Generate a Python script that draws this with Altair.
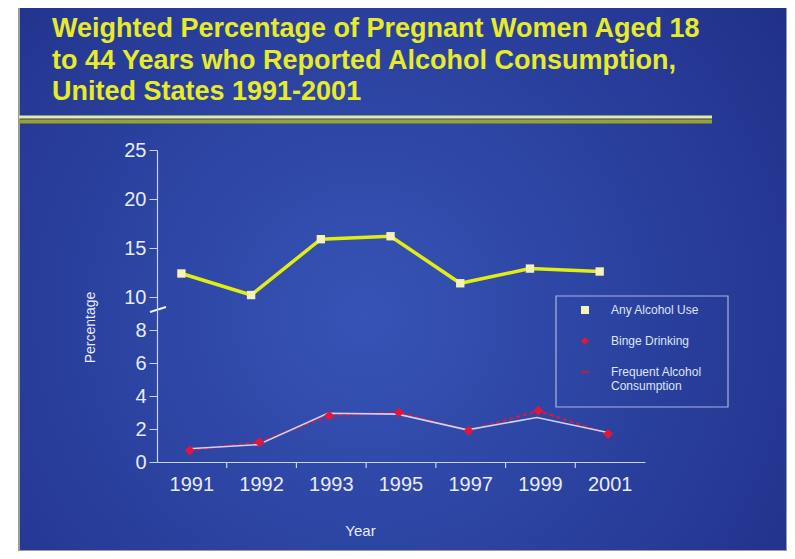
import altair as alt
import pandas as pd

# ---- data ----
YEARS = ["1991", "1992", "1993", "1995", "1997", "1999", "2001"]
ANY_USE = [12.4, 10.2, 15.9, 16.2, 11.4, 12.9, 12.6]
BINGE = [0.7, 1.2, 2.8, 3.0, 1.9, 3.1, 1.7]
FREQUENT = [0.8, 1.05, 2.95, 2.9, 1.95, 2.7, 1.8]
SERIES = ["Any Alcohol Use", "Binge Drinking", "Frequent Alcohol Consumption"]
Y_TICKS = [0, 2, 4, 6, 8, 10, 15, 20, 25]
TITLE_LINES = [
    "Weighted Percentage of Pregnant Women Aged 18",
    "to 44 Years who Reported Alcohol Consumption,",
    "United States 1991-2001",
]

df = pd.DataFrame({
    "year": YEARS * 3,
    "series": [SERIES[0]] * 7 + [SERIES[1]] * 7 + [SERIES[2]] * 7,
    "value": ANY_USE + BINGE + FREQUENT,
})
one = pd.DataFrame({"k": [0]})

FONT = "Liberation Sans"
AXIS_COLOR = "#c9d1f2"
LABEL_COLOR = "#e8ecf8"
W, H = 488, 312

x_scale = alt.Scale(type="band", domain=YEARS, paddingInner=0, paddingOuter=0)
y_scale = alt.Scale(domain=[0, 10, 25], range=[H, 147, 0], nice=False, zero=False)

x_axis = alt.Axis(
    title="Year", ticks=False, labelAngle=0, labelFont=FONT, labelFontSize=20,
    labelColor=LABEL_COLOR, labelPadding=22, domainColor=AXIS_COLOR, domainWidth=1.2,
    titleFont=FONT, titleFontSize=15, titleFontWeight="normal", titleColor=LABEL_COLOR,
    titleX=203, titleY=68, titleAlign="center", titleBaseline="middle",
    grid=False, zindex=1, bandPosition=0.5, labelAlign="center",
)
y_axis = alt.Axis(
    title="Percentage", values=Y_TICKS, tickCount=30, tickSize=8, tickColor=AXIS_COLOR,
    domainColor=AXIS_COLOR, domainWidth=1.2, labelFont=FONT, labelFontSize=20,
    labelColor=LABEL_COLOR, labelPadding=3, labelOverlap=False, labelFlush=False,
    titleFont=FONT, titleFontSize=14,
    titleFontWeight="normal", titleColor=LABEL_COLOR, titleX=-67, titleY=177,
    titleAngle=270, titleAlign="center", titleBaseline="middle",
    grid=False, zindex=1,
)

legend = alt.Legend(
    title=None, orient="none", legendX=422, legendY=154, padding=0,
    rowPadding=19, labelOffset=20, symbolSize=64, labelFont=FONT,
    labelFontSize=12, labelColor="#dfe4f6", labelLimit=220, zindex=1,
    labelExpr="datum.label == 'Frequent Alcohol Consumption' ? ['Frequent Alcohol', 'Consumption'] : datum.label",
)
color_scale = alt.Scale(domain=SERIES, range=["#f3f3b8", "#e0163a", "#8e2c5c"])
shape_scale = alt.Scale(domain=SERIES, range=["square", "diamond", "M-1,-0.35L1,-0.35L1,0.35L-1,0.35Z"])

# ---- decorations ----
background = alt.Chart(one).mark_rect(
    fill={
        "gradient": "radial",
        "x1": 0.45, "y1": 0.55, "r1": 0,
        "x2": 0.45, "y2": 0.55, "r2": 0.8,
        "stops": [
            {"offset": 0, "color": "#3654b6"},
            {"offset": 1, "color": "#1d2a82"},
        ],
    },
    stroke="#9c9c9c", strokeWidth=2,
).encode(x=alt.value(-138), x2=alt.value(W + 142), y=alt.value(-146), y2=alt.value(H + 89))

title_layers = [
    alt.Chart(one).mark_text(
        text=line, font=FONT, fontSize=27, fontWeight="bold", color="#e8ec28",
        align="left", baseline="alphabetic",
    ).encode(x=alt.value(-105), y=alt.value(yv))
    for line, yv in zip(TITLE_LINES, [-113, -81, -50])
]

rule_top = alt.Chart(one).mark_rule(color="#e4eca0", strokeWidth=3).encode(
    x=alt.value(-138), x2=alt.value(555), y=alt.value(-33))
rule_bot = alt.Chart(one).mark_rule(color="#9aa22e", strokeWidth=4).encode(
    x=alt.value(-138), x2=alt.value(555), y=alt.value(-28.5))

brk = alt.Chart(one).mark_rule(color="#f0f2ff", strokeWidth=2).encode(
    x=alt.value(-7), x2=alt.value(9), y=alt.value(162), y2=alt.value(157))

legend_box = alt.Chart(one).mark_rect(fillOpacity=0, stroke="#aab4e4", strokeWidth=1.2).encode(
    x=alt.value(399), x2=alt.value(571), y=alt.value(146), y2=alt.value(257))

ticks = alt.Chart(pd.DataFrame({"year": YEARS[:-1]})).mark_rule(color=AXIS_COLOR, strokeWidth=1.2).encode(
    x=alt.X("year:N", scale=x_scale, bandPosition=1),
    y=alt.value(H), y2=alt.value(H + 6))

# ---- data layers ----
base = alt.Chart(df)

def xenc(bp, axis=None):
    if axis is None:
        return alt.X("year:N", scale=x_scale, bandPosition=bp)
    return alt.X("year:N", scale=x_scale, bandPosition=bp, axis=axis)

line_binge = base.transform_filter(alt.datum.series == SERIES[1]).mark_line(
    color="#d01c40", strokeWidth=2.2, strokeDash=[4, 3]).encode(
    x=xenc(0.47), y=alt.Y("value:Q", scale=y_scale))
line_freq = base.transform_filter(alt.datum.series == SERIES[2]).mark_line(
    color="#d2d0f0", strokeWidth=1.6).encode(
    x=xenc(0.45), y=alt.Y("value:Q", scale=y_scale))
line_any = base.transform_filter(alt.datum.series == SERIES[0]).mark_line(
    color="#e2ee12", strokeWidth=3.5).encode(
    x=xenc(0.35), y=alt.Y("value:Q", scale=y_scale))

pts_any = base.transform_filter(alt.datum.series == SERIES[0]).mark_point(
    filled=True, opacity=1, size=70).encode(
    x=xenc(0.35, x_axis),
    y=alt.Y("value:Q", scale=y_scale, axis=y_axis),
    color=alt.Color("series:N", scale=color_scale, legend=legend),
    shape=alt.Shape("series:N", scale=shape_scale, legend=legend),
)
pts_binge = base.transform_filter(alt.datum.series == SERIES[1]).mark_point(
    filled=True, opacity=1, size=100).encode(
    x=xenc(0.47),
    y=alt.Y("value:Q", scale=y_scale),
    color=alt.Color("series:N", scale=color_scale, legend=legend),
    shape=alt.Shape("series:N", scale=shape_scale, legend=legend),
)

chart = alt.layer(
    background, *title_layers, rule_top, rule_bot, legend_box, ticks,
    line_binge, line_freq, line_any, pts_binge, pts_any, brk,
).properties(
    width=W, height=H,
    autosize=alt.AutoSizeParams(type="none"),
    padding={"left": 149, "top": 142, "right": 142, "bottom": 89},
).configure_view(stroke=None).configure(background="white")

chart.save("out.html", embed_options={"renderer": "svg", "actions": False})
